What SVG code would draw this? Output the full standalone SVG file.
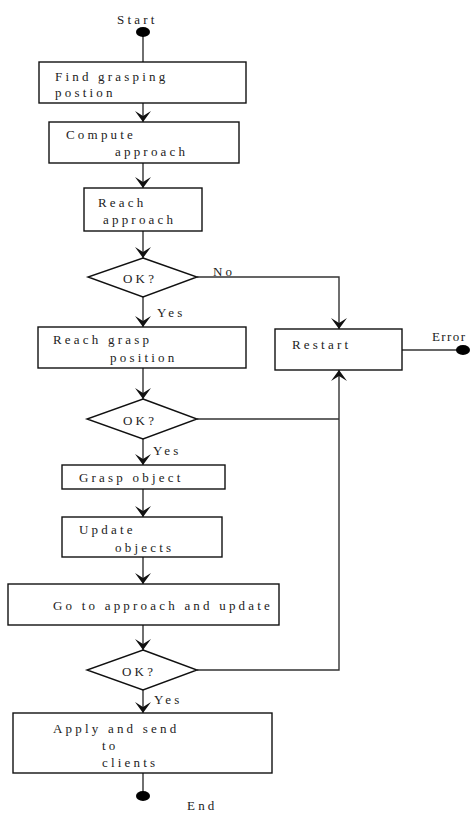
<svg xmlns="http://www.w3.org/2000/svg" width="472" height="814" viewBox="0 0 472 814">
<defs>
<marker id="ah" markerWidth="12" markerHeight="16" refX="11" refY="8" orient="auto" markerUnits="userSpaceOnUse">
<path d="M11,8 L0,0 L5,8 L0,16 Z" fill="#111"/>
</marker>
<style>
.box{fill:#fff;stroke:#111;stroke-width:1.4}
.t{font-family:"Liberation Serif","Times New Roman",serif;font-size:13px;letter-spacing:3.2px;fill:#222}
.ln{fill:none;stroke:#333;stroke-width:1.4}
.ar{fill:none;stroke:#333;stroke-width:1.4;marker-end:url(#ah)}
.dot{fill:#000}
</style>
</defs>
<rect width="472" height="814" fill="#fff"/>
<g id="connectors">
<line class="ln" x1="143" y1="32" x2="143" y2="62"/>
<line class="ar" x1="143" y1="103" x2="143" y2="122"/>
<line class="ar" x1="143" y1="163" x2="143" y2="188"/>
<line class="ar" x1="143" y1="231" x2="143" y2="258"/>
<line class="ar" x1="143" y1="297" x2="143" y2="327"/>
<line class="ar" x1="143" y1="368" x2="143" y2="399"/>
<line class="ar" x1="143" y1="439" x2="143" y2="465"/>
<line class="ar" x1="143" y1="489" x2="143" y2="517"/>
<line class="ar" x1="143" y1="557" x2="143" y2="584"/>
<line class="ar" x1="143" y1="625" x2="143" y2="650"/>
<line class="ar" x1="143" y1="690" x2="143" y2="713"/>
<line class="ln" x1="143" y1="773" x2="143" y2="796"/>
<polyline class="ar" points="197,277 339,277 339,329"/>
<line class="ln" x1="197" y1="419" x2="339" y2="419"/>
<polyline class="ar" points="197,670 339,670 339,370"/>
<line class="ln" x1="402" y1="350" x2="463" y2="350"/>
</g>
<g id="start">
<ellipse class="dot" cx="143" cy="32" rx="7" ry="5"/>
<text class="t" x="117" y="24">Start</text>
</g>
<g id="find">
<rect class="box" x="39" y="62" width="207" height="41"/>
<text class="t" x="55" y="81">Find grasping</text>
<text class="t" x="55" y="97">postion</text>
</g>
<g id="compute">
<rect class="box" x="49" y="122" width="190" height="41"/>
<text class="t" x="66" y="139">Compute</text>
<text class="t" x="115" y="156">approach</text>
</g>
<g id="reach">
<rect class="box" x="84" y="188" width="118" height="43"/>
<text class="t" x="98" y="207">Reach</text>
<text class="t" x="103" y="224">approach</text>
</g>
<g id="ok1">
<polygon class="box" points="143,258 197,277 143,297 88,277"/>
<text class="t" x="123" y="283">OK?</text>
<text class="t" x="213" y="276">No</text>
<text class="t" x="157" y="317">Yes</text>
</g>
<g id="reachgrasp">
<rect class="box" x="38" y="327" width="208" height="41"/>
<text class="t" x="53" y="344">Reach grasp</text>
<text class="t" x="110" y="362">position</text>
</g>
<g id="ok2">
<polygon class="box" points="143,399 197,419 143,439 87,419"/>
<text class="t" x="123" y="425">OK?</text>
<text class="t" x="153" y="455">Yes</text>
</g>
<g id="restart">
<rect class="box" x="275" y="329" width="127" height="41"/>
<text class="t" x="292" y="349">Restart</text>
</g>
<g id="error">
<ellipse class="dot" cx="463" cy="350" rx="7" ry="5"/>
<text class="t" x="432" y="341" style="letter-spacing:1.4px">Error</text>
</g>
<g id="grasp">
<rect class="box" x="62" y="465" width="163" height="24"/>
<text class="t" x="79" y="482">Grasp object</text>
</g>
<g id="update">
<rect class="box" x="62" y="517" width="160" height="40"/>
<text class="t" x="79" y="534">Update</text>
<text class="t" x="115" y="552">objects</text>
</g>
<g id="goto">
<rect class="box" x="8" y="584" width="271" height="41"/>
<text class="t" x="53" y="610">Go to approach and update</text>
</g>
<g id="ok3">
<polygon class="box" points="143,650 197,670 143,690 87,670"/>
<text class="t" x="122" y="676">OK?</text>
<text class="t" x="154" y="704">Yes</text>
</g>
<g id="apply">
<rect class="box" x="13" y="713" width="259" height="60"/>
<text class="t" x="53" y="733">Apply and send</text>
<text class="t" x="102" y="750">to</text>
<text class="t" x="102" y="767">clients</text>
</g>
<g id="end">
<ellipse class="dot" cx="143" cy="796" rx="7" ry="5"/>
<text class="t" x="187" y="810">End</text>
</g>
</svg>
